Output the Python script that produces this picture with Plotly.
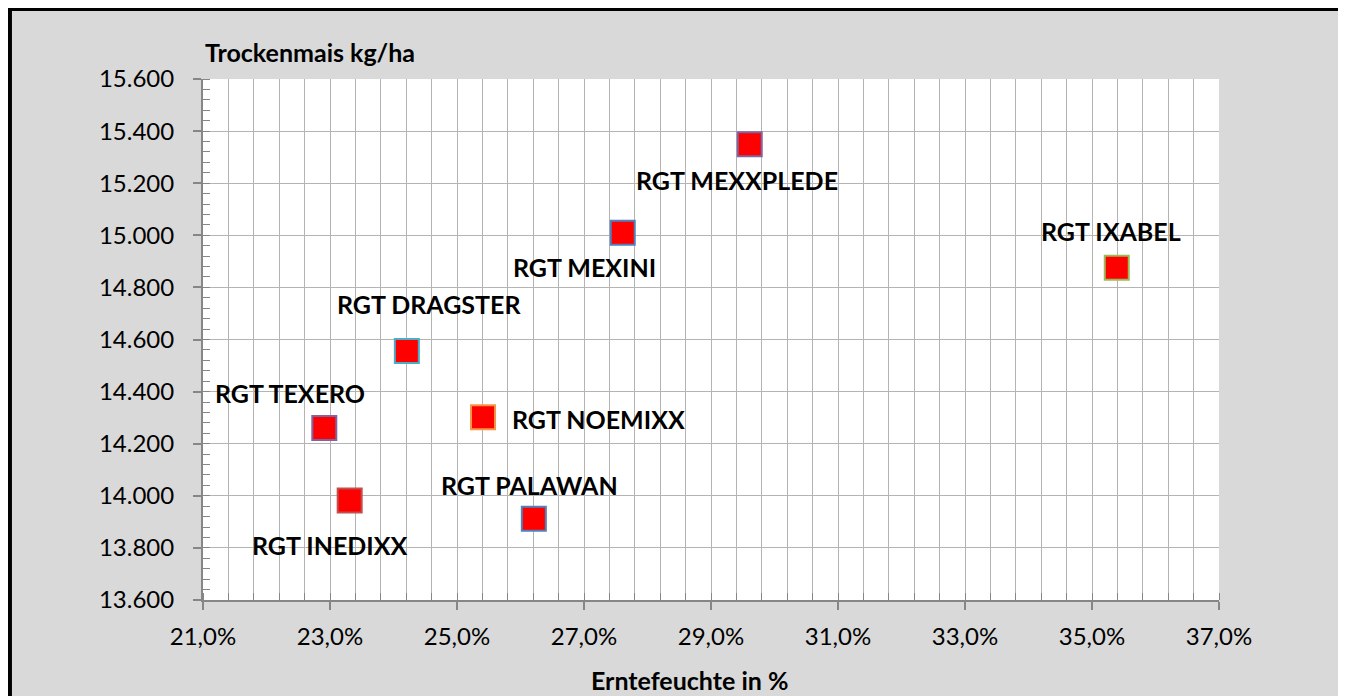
import plotly.graph_objects as go

# ---- data ----
sorten = ["RGT MEXXPLEDE", "RGT MEXINI", "RGT IXABEL", "RGT DRAGSTER",
          "RGT TEXERO", "RGT NOEMIXX", "RGT INEDIXX", "RGT PALAWAN"]
erntefeuchte = [0.2961, 0.2761, 0.3539, 0.2421, 0.2291, 0.2541, 0.2331, 0.2621]
trockenmais = [15350, 15010, 14875, 14556, 14260, 14302, 13982, 13912]
rand_farben = ["#8064A2", "#4F81BD", "#9BBB59", "#4BACC6",
               "#8064A2", "#F79646", "#C0504D", "#4F81BD"]
label_dx = [-13, -38, -6, 22, -34, 115, -20, -4]
label_dy = [-36, -34, 37, 47, 35, -2, -45, 34]

x_range = [0.21, 0.37]
y_range = [13600, 15600]

FONT = "Lato"
GRID = "#b4b4b4"
AX = "#868686"

fig = go.Figure()
fig.add_trace(go.Scatter(
    x=erntefeuchte, y=trockenmais, mode="markers",
    marker=dict(symbol="square", size=24, color="#FF0000",
                line=dict(color=rand_farben, width=2)),
    hoverinfo="text", text=sorten, showlegend=False))

annotations = []
for name, xv, yv, dx, dy in zip(sorten, erntefeuchte, trockenmais, label_dx, label_dy):
    annotations.append(dict(x=xv, y=yv, xref="x", yref="y", text=name,
                            showarrow=False, xshift=dx, yshift=dy,
                            font=dict(family=FONT, size=25, color="black", weight="bold")))

annotations.append(dict(x=0.0, y=1.052, xref="paper", yref="paper",
                        text="Trockenmais kg/ha", showarrow=False,
                        xanchor="left", yanchor="middle",
                        font=dict(family=FONT, size=25, color="black", weight="bold")))
annotations.append(dict(x=0.479, y=-0.154, xref="paper", yref="paper",
                        text="Erntefeuchte in %", showarrow=False,
                        xanchor="center", yanchor="middle",
                        font=dict(family=FONT, size=25, color="black", weight="bold")))

shapes = [
    dict(type="rect", xref="paper", yref="paper",
         x0=-0.1905, x1=1.1201, y0=-0.25, y1=1.1353,
         fillcolor="#D9D9D9", line=dict(color="black", width=5), layer="below"),
    dict(type="rect", xref="paper", yref="paper",
         x0=0, x1=1, y0=0, y1=1,
         fillcolor="white", line=dict(width=0), layer="below"),
]

fig.update_layout(
    width=1346, height=696,
    margin=dict(l=195, r=135, t=71, b=104),
    paper_bgcolor="white",
    plot_bgcolor="rgba(0,0,0,0)",
    separators=",.",
    font=dict(family=FONT, size=24, color="black"),
    annotations=annotations,
    shapes=shapes,
    xaxis=dict(range=x_range, dtick=0.02, tick0=0.21, tickformat=".1%",
               showgrid=True, gridcolor=GRID, gridwidth=1.3,
               ticks="outside", ticklen=8, tickcolor=AX, tickwidth=1.5,
               showline=True, linecolor=AX, linewidth=2,
               zeroline=False, ticklabelstandoff=6,
               minor=dict(dtick=0.004, tick0=0.21, ticks="inside", ticklen=7,
                          tickcolor=AX, tickwidth=1.3,
                          showgrid=True, gridcolor=GRID, gridwidth=1.3),
               tickfont=dict(family=FONT, size=24, color="black")),
    yaxis=dict(range=y_range, dtick=200, tick0=13600, tickformat=",.0f",
               showgrid=True, gridcolor=GRID, gridwidth=1.3,
               ticks="outside", ticklen=8, tickcolor=AX, tickwidth=1.5,
               showline=True, linecolor=AX, linewidth=2,
               zeroline=False, ticklabelstandoff=14,
               minor=dict(dtick=40, tick0=13600, ticks="inside", ticklen=7,
                          tickcolor=AX, tickwidth=1.3, showgrid=False),
               tickfont=dict(family=FONT, size=24, color="black")),
)

fig.write_html("out.html")
